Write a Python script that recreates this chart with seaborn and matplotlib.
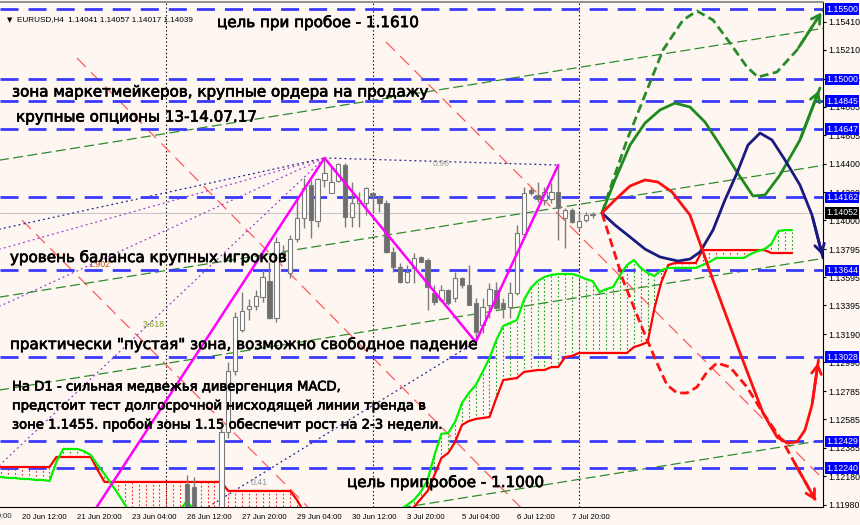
import matplotlib
matplotlib.use("Agg")
import matplotlib.pyplot as plt
import matplotlib.transforms as mtransforms
import matplotlib.patheffects as pe
import numpy as np
import pandas as pd
import seaborn as sns

# ---------------- данные (ось X - номер бара H4, 0 = 20 Jun 12:00) ----------------
bars = list(range(18, 84))
opens = [1.1175, 1.1182, 1.1188, 1.1185, 1.1178, 1.1186, 1.12127, 1.12105, 1.1191, 1.1186,
         1.1190, 1.1192, 1.12496, 1.12930, 1.13220, 1.13369, 1.13391, 1.13455, 1.13568, 1.13305,
         1.13774, 1.13625, 1.13867, 1.14016, 1.14250, 1.13994, 1.14286, 1.14193, 1.14278, 1.14392,
         1.14023, 1.14122, 1.14122, 1.14190, 1.14158, 1.14122, 1.13774, 1.13668, 1.13561, 1.13661,
         1.13739, 1.13717, 1.13483, 1.13433, 1.13504, 1.13448, 1.13590, 1.13540, 1.13412, 1.13256,
         1.13398, 1.13504, 1.13412, 1.13384, 1.13483, 1.13902, 1.14215, 1.14179, 1.14144, 1.14151,
         1.14200, 1.14016, 1.14073, 1.13952, 1.14002, 1.14041]
highs = [1.1190, 1.11965, 1.11962, 1.1194, 1.11968, 1.1196, 1.12190, 1.12176, 1.11955, 1.1194,
         1.11958, 1.12524, 1.12990, 1.13348, 1.13490, 1.13440, 1.13504, 1.13646, 1.13703, 1.13881,
         1.13824, 1.13895, 1.14158, 1.14300, 1.14286, 1.14300, 1.14442, 1.14392, 1.14406, 1.14406,
         1.14271, 1.14200, 1.14236, 1.14200, 1.14179, 1.14144, 1.13810, 1.13696, 1.13682, 1.13767,
         1.13745, 1.13732, 1.13540, 1.13540, 1.13510, 1.13632, 1.13597, 1.13682, 1.13448, 1.13448,
         1.13554, 1.13561, 1.13448, 1.13561, 1.13966, 1.14236, 1.14236, 1.14271, 1.14236, 1.14264,
         1.14392, 1.14087, 1.14087, 1.14051, 1.14058, 1.14057]
lows = [1.1168, 1.1176, 1.1180, 1.1172, 1.1175, 1.1183, 1.1187, 1.1186, 1.1182, 1.1178,
        1.1184, 1.1188, 1.12450, 1.12900, 1.13206, 1.13291, 1.13362, 1.13419, 1.13300, 1.13277,
        1.13732, 1.13590, 1.13845, 1.13945, 1.13874, 1.13952, 1.14236, 1.14190, 1.14271, 1.13952,
        1.13952, 1.13952, 1.14037, 1.14058, 1.14058, 1.13767, 1.13632, 1.13554, 1.13555, 1.13554,
        1.13700, 1.13362, 1.13398, 1.13419, 1.13398, 1.13419, 1.13519, 1.13398, 1.13135, 1.13200,
        1.13305, 1.13370, 1.13305, 1.13305, 1.13469, 1.13895, 1.14179, 1.14129, 1.14108, 1.14122,
        1.13859, 1.13803, 1.13980, 1.13931, 1.13987, 1.14017]
closes = [1.1182, 1.1188, 1.1185, 1.1178, 1.1192, 1.1194, 1.1190, 1.1191, 1.1186, 1.1190,
          1.1192, 1.12496, 1.12930, 1.13313, 1.13355, 1.13391, 1.13462, 1.13597, 1.13305, 1.13845,
          1.13760, 1.13867, 1.14016, 1.14229, 1.14002, 1.14293, 1.14335, 1.14271, 1.14399, 1.14023,
          1.14122, 1.14144, 1.14229, 1.14170, 1.14122, 1.13774, 1.13668, 1.13561, 1.13632, 1.13732,
          1.13703, 1.13526, 1.13419, 1.13504, 1.13412, 1.13590, 1.13540, 1.13398, 1.13206, 1.13384,
          1.13512, 1.13377, 1.13377, 1.13483, 1.13909, 1.14193, 1.14193, 1.14151, 1.14200, 1.14200,
          1.14087, 1.14073, 1.13987, 1.13994, 1.14037, 1.14039]

# Ишимоку (облако), левая часть
cloud_left_x = list(range(-4, 43))
span_a_left = [1.12176, 1.12176, 1.12169, 1.12169, 1.12162, 1.12162, 1.12155, 1.12155, 1.12148, 1.12283,
               1.12375, 1.12375, 1.12375, 1.12360, 1.12332, 1.12261, 1.12197, 1.12126, 1.12055, 1.11977,
               1.11906, 1.11835, 1.11835, 1.11835, 1.11835, 1.11835, 1.11835, 1.11942, 1.12006, 1.11942,
               1.11800, 1.11800, 1.11800, 1.11800, 1.11800, 1.11800, 1.11800, 1.11800, 1.11800, 1.11800,
               1.11800, 1.11800, 1.11800, 1.11800, 1.11800, 1.11800, 1.11800]
span_b_left = [1.12247, 1.12247, 1.12247, 1.12247, 1.12247, 1.12247, 1.12247, 1.12247, 1.12247, 1.12318,
               1.12318, 1.12318, 1.12318, 1.12318, 1.12318, 1.12226, 1.12141, 1.12141, 1.12141, 1.12141,
               1.12141, 1.12141, 1.12141, 1.12141, 1.12141, 1.12141, 1.12141, 1.12141, 1.12141, 1.12141,
               1.12141, 1.12141, 1.12141, 1.12141, 1.12077, 1.12077, 1.12077, 1.12077, 1.12077, 1.12077,
               1.12077, 1.12077, 1.12077, 1.12077, 1.12013, 1.11927, 1.11871]
# Ишимоку (облако), правая часть
cloud_right_x = list(range(54, 113))
span_a_right = [1.11906, 1.11942, 1.11977, 1.12013, 1.12070, 1.12155, 1.12332, 1.12482, 1.12489, 1.12567,
                1.12702, 1.12773, 1.12830, 1.12922, 1.13021, 1.13149, 1.13249, 1.13270, 1.13291, 1.13433,
                1.13518, 1.13568, 1.13597, 1.13611, 1.13618, 1.13618, 1.13618, 1.13604, 1.13582, 1.13568,
                1.13490, 1.13511, 1.13526, 1.13611, 1.13682, 1.13717, 1.13661, 1.13625, 1.13604, 1.13646,
                1.13661, 1.13661, 1.13661, 1.13661, 1.13661, 1.13682, 1.13703, 1.13732, 1.13732, 1.13732,
                1.13732, 1.13732, 1.13760, 1.13781, 1.13795, 1.13831, 1.13923, 1.13930, 1.13930]
span_b_right = [1.11729, 1.11800, 1.11871, 1.11963, 1.12020, 1.12077, 1.12190, 1.12311, 1.12347, 1.12425,
                1.12546, 1.12574, 1.12588, 1.12595, 1.12602, 1.12737, 1.12865, 1.12872, 1.12879, 1.12922,
                1.12929, 1.12936, 1.12936, 1.12957, 1.12957, 1.13028, 1.13036, 1.13057, 1.13057, 1.13057,
                1.13057, 1.13057, 1.13057, 1.13057, 1.13057, 1.13099, 1.13114, 1.13135, 1.13376, 1.13561,
                1.13682, 1.13696, 1.13696, 1.13696, 1.13696, 1.13788, 1.13788, 1.13788, 1.13788, 1.13788,
                1.13788, 1.13788, 1.13788, 1.13788, 1.13788, 1.13767, 1.13767, 1.13767, 1.13767]

# уровни и подписи шкалы цен
levels = [1.15500, 1.15000, 1.14845, 1.14647, 1.14162, 1.13644, 1.13028, 1.12429, 1.12240]
price_now = 1.14052
price_ticks = [1.11980, 1.12180, 1.12385, 1.12585, 1.12785, 1.12990, 1.13190, 1.13395, 1.13595,
               1.13795, 1.14000, 1.14200, 1.14400, 1.14605, 1.14805, 1.15005, 1.15210, 1.15410]
time_ticks = [-8, 0, 8, 16, 24, 32, 40, 48, 56, 64, 72, 80]
time_labels = ['19 Jun 20:00', '20 Jun 12:00', '21 Jun 20:00', '23 Jun 04:00', '26 Jun 12:00',
               '27 Jun 20:00', '29 Jun 04:00', '30 Jun 12:00', '3 Jul 20:00', '5 Jul 04:00',
               '6 Jul 12:00', '7 Jul 20:00']
week_separators = [21, 51, 81]

# зигзаг
zigzag_x = [5, 44, 66, 78]
zigzag_y = [1.11523, 1.14442, 1.13135, 1.14392]

# трендовые линии: (x1, y1, x2, y2)
red_channel = [(8.0, 1.15152, 80, 1.11591), (52.95, 1.15266, 120, 1.11992), (0, 1.14001, 50, 1.11551)]
green_channel = [(-4, 1.14421, 120, 1.15390), (-4, 1.13448, 120, 1.14417),
                 (-4, 1.12788, 120, 1.13756), (-4, 1.11495, 120, 1.12464)]
navy_dotted = [(-4, 1.13929, 44, 1.14442), (44, 1.14442, 78, 1.14392), (24, 1.11871, 66, 1.13135)]
purple_dotted = [(-4, 1.13784, 44, 1.14442), (-4, 1.13372, 44, 1.14442), (-4, 1.12226, 44, 1.14442)]

# прогнозные траектории
fc_green_dash_x = [84.36, 85.82, 88.0, 90.91, 93.24, 96.15, 98.18, 100.51, 102.98, 105.45, 107.05, 109.82, 112.73, 116.51]
fc_green_dash_y = [1.14051, 1.14264, 1.14570, 1.14925, 1.15209, 1.15422, 1.15486, 1.15422, 1.15259, 1.15088, 1.15017, 1.15053, 1.15209, 1.15493]
fc_green_x = [84.36, 86.25, 88.44, 90.62, 92.80, 94.98, 97.16, 99.35, 101.53, 104.0, 106.33, 108.07, 110.25, 113.16, 116.07]
fc_green_y = [1.14051, 1.14286, 1.14534, 1.14690, 1.14783, 1.14832, 1.14804, 1.14697, 1.14534, 1.14342, 1.14172, 1.14179, 1.14321, 1.14570, 1.14939]
fc_navy_x = [84.36, 86.25, 88.44, 90.62, 92.80, 95.42, 97.16, 98.62, 100.51, 102.25, 104.0, 105.60, 107.35, 109.09, 110.98, 113.16, 114.91, 116.51]
fc_navy_y = [1.14051, 1.13966, 1.13881, 1.13795, 1.13739, 1.13710, 1.13724, 1.13774, 1.13930, 1.14144, 1.14335, 1.14534, 1.14619, 1.14570, 1.14428, 1.14250, 1.14037, 1.13732]
fc_red_x = [84.36, 86.25, 88.44, 90.62, 92.51, 94.55, 97.16, 100.51, 104.44, 107.78, 109.82, 111.27, 112.73, 113.89, 114.91, 115.85]
fc_red_y = [1.14051, 1.14144, 1.14243, 1.14286, 1.14271, 1.14200, 1.14037, 1.13575, 1.13057, 1.12631, 1.12460, 1.12418, 1.12425, 1.12510, 1.12687, 1.13007]
fc_red_dash_x = [84.36, 85.82, 87.42, 90.33, 92.36, 93.82, 95.27, 96.73, 98.18, 99.64, 101.09, 102.98, 105.45, 107.78, 110.69, 112.15, 115.64]
fc_red_dash_y = [1.14051, 1.13824, 1.13575, 1.13220, 1.12986, 1.12830, 1.12773, 1.12773, 1.12815, 1.12922, 1.12986, 1.12957, 1.12815, 1.12631, 1.12425, 1.12297, 1.11991]

BG = '#FEF7F1'
AXIS_FONT = ['Liberation Sans', 'DejaVu Sans']

sns.set_style('white')
plt.rcParams['font.family'] = ['DejaVu Sans']

fig = plt.figure(figsize=(8.6, 5.25), dpi=100, facecolor=BG)
ax = fig.add_axes([0.0, 18 / 525, 823 / 860, 505 / 525], facecolor=BG)
ax.set_xlim(-3.2, 116.51)
ax.set_ylim(1.11963, 1.15550)

# текущая цена
ax.axhline(price_now, color='#C8C8C8', lw=0.8, zorder=1)

# разделители недель
for sep in week_separators:
    ax.axvline(sep, color='black', lw=0.8, linestyle=(0, (1.2, 2.2)), zorder=2)

# наклонные линии канала
for x1, y1, x2, y2 in red_channel:
    ax.plot([x1, x2], [y1, y2], color='#FF5A5A', lw=0.9, linestyle=(0, (10, 6)), zorder=2)
for x1, y1, x2, y2 in green_channel:
    ax.plot([x1, x2], [y1, y2], color='#2E8B2E', lw=0.9, linestyle=(0, (8, 3.5)), zorder=2)
for x1, y1, x2, y2 in navy_dotted:
    ax.plot([x1, x2], [y1, y2], color='#22228C', lw=0.9, linestyle=(0, (1.5, 2.5)), zorder=2)
for x1, y1, x2, y2 in purple_dotted:
    ax.plot([x1, x2], [y1, y2], color='#9A3FC8', lw=0.9, linestyle=(0, (1.5, 2.5)), zorder=2)

# облако Ишимоку
for cx, sa, sb in [(cloud_left_x, span_a_left, span_b_left), (cloud_right_x, span_a_right, span_b_right)]:
    sa = np.array(sa)
    sb = np.array(sb)
    cols = np.where(sa >= sb, '#1FA01F', '#FF2020')
    ax.vlines(cx, np.minimum(sa, sb), np.maximum(sa, sb), colors=cols, lw=0.8,
              linestyles=(0, (1.5, 2.0)), zorder=2)
    cloud = pd.DataFrame({'bar': cx, 'a': sa, 'b': sb})
    sns.lineplot(data=cloud, x='bar', y='b', ax=ax, color='#FF0000', lw=1.6, sort=False, zorder=3)
    sns.lineplot(data=cloud, x='bar', y='a', ax=ax, color='#00F000', lw=1.6, sort=False, zorder=3)

# горизонтальные уровни
for lv in levels:
    ax.axhline(lv, color='#3A3AFF', lw=2.0, linestyle=(0, (6.5, 3.6)), zorder=2.5)

# свечи
o = np.array(opens)
c = np.array(closes)
bull = c >= o
ax.vlines(bars, lows, highs, color='#7A7A7A', lw=1.0, zorder=3)
ax.bar(bars, np.abs(c - o) + 0.000012, bottom=np.minimum(o, c), width=0.62,
       color=np.where(bull, '#FFFFFF', '#6E6E6E'), edgecolor='#7A7A7A', lw=0.8, zorder=3.5)

# зигзаг
ax.plot(zigzag_x, zigzag_y, color='#FF00FF', lw=1.8, zorder=4)

# прогнозы
curves = [
    (fc_green_dash_x, fc_green_dash_y, '#2A8A2A', (0, (3.2, 1.6))),
    (fc_green_x, fc_green_y, '#1E8A1E', '-'),
    (fc_navy_x, fc_navy_y, '#1A1A80', '-'),
    (fc_red_x, fc_red_y, '#FF1010', '-'),
    (fc_red_dash_x, fc_red_dash_y, '#FF1010', (0, (3.2, 1.6))),
]
for cx, cy, col, ls in curves:
    df_fc = pd.DataFrame({'bar': cx, 'price': cy})
    sns.lineplot(data=df_fc, x='bar', y='price', ax=ax, color=col, lw=2.0,
                 linestyle=ls, sort=False, zorder=5)
    ax.annotate('', xy=(cx[-1], cy[-1]), xytext=(cx[-2], cy[-2]),
                arrowprops=dict(arrowstyle='->,head_length=0.6,head_width=0.35', color=col, lw=2.0),
                annotation_clip=False, zorder=5)

# подписи уровней Фибоначчи
ax.text(9.6, 1.13682, '1.902', fontsize=6.3, color='#C0502A', va='center', zorder=4, family=AXIS_FONT)
ax.text(17.6, 1.13256, '3.618', fontsize=6.3, color='#7A9A20', va='center', zorder=4, family=AXIS_FONT)
ax.text(59.8, 1.14406, '0.96', fontsize=6.3, color='#A0A0A0', va='center', zorder=4, family=AXIS_FONT)
ax.text(33.2, 1.12134, '0.41', fontsize=6.3, color='#8899AA', va='center', zorder=4, family=AXIS_FONT)

# текстовые пометки
thick = [pe.withStroke(linewidth=0.5, foreground='black')]
big = dict(fontsize=10.9, color='black', va='center', ha='left', zorder=6, path_effects=thick)
small = dict(fontsize=9.5, color='black', va='center', ha='left', zorder=6, path_effects=thick)
ax.text(28.36, 1.15408, 'цель при пробое - 1.1610', **big)
ax.text(-1.45, 1.14911, 'зона маркетмейкеров, крупные ордера на продажу', **big)
ax.text(-0.87, 1.14733, 'крупные опционы 13-14.07.17', **big)
ax.text(-1.75, 1.13739, 'уровень баланса крупных игроков', **big)
ax.text(-1.75, 1.13121, 'практически "пустая" зона, возможно свободное падение', **big)
ax.text(-1.45, 1.12815, 'На D1 - сильная медвежья дивергенция MACD,', **small)
ax.text(-1.45, 1.12680, 'предстоит тест долгосрочной нисходящей линии тренда в', **small)
ax.text(-1.45, 1.12545, 'зоне 1.1455. пробой зоны 1.15 обеспечит рост на 2-3 недели.', **small)
ax.text(47.27, 1.12141, 'цель припробое - 1.1000', **big)

fig.text(7 / 860, 1 - 20 / 525, '\u25BC', fontsize=5, color='black', va='center')
fig.text(17 / 860, 1 - 20 / 525, 'EURUSD,H4  1.14041 1.14057 1.14017 1.14039',
         fontsize=5.9, color='black', va='center', family=AXIS_FONT)

# шкала цен справа
ax.yaxis.tick_right()
ax.set_yticks(price_ticks)
ax.set_yticklabels([f'{t:.5f}' for t in price_ticks], fontsize=6.3, family=AXIS_FONT)
ax.tick_params(axis='y', direction='out', length=2.5, pad=1, colors='black')
trans = mtransforms.blended_transform_factory(ax.transAxes, ax.transData)
for lv in levels:
    ax.text(1.0035, lv, f'{lv:.5f}', transform=trans, fontsize=6.3, color='white', va='center',
            ha='left', clip_on=False, zorder=7, family=AXIS_FONT,
            bbox=dict(boxstyle='square,pad=0.15', fc='#0000FF', ec='none'))
ax.text(1.0035, price_now, f'{price_now:.5f}', transform=trans, fontsize=6.3, color='white',
        va='center', ha='left', clip_on=False, zorder=7, family=AXIS_FONT,
        bbox=dict(boxstyle='square,pad=0.15', fc='black', ec='none'))

# шкала времени
ax.set_xticks(time_ticks[1:])
ax.set_xticklabels(time_labels[1:], fontsize=5.6, ha='left', family=AXIS_FONT)
ax.tick_params(axis='x', direction='out', length=3, pad=2, colors='black')
ax.text(time_ticks[0], -0.012, time_labels[0],
        transform=mtransforms.blended_transform_factory(ax.transData, ax.transAxes),
        fontsize=5.6, va='top', ha='left', clip_on=False, family=AXIS_FONT)
ax.set_xlabel('')
ax.set_ylabel('')

ax.spines['left'].set_visible(False)
ax.spines['top'].set_color('#808080')
ax.spines['top'].set_linewidth(1.2)
for side in ['right', 'bottom']:
    ax.spines[side].set_color('black')
    ax.spines[side].set_linewidth(0.8)

fig.savefig('out.png', dpi=100, facecolor=BG)
